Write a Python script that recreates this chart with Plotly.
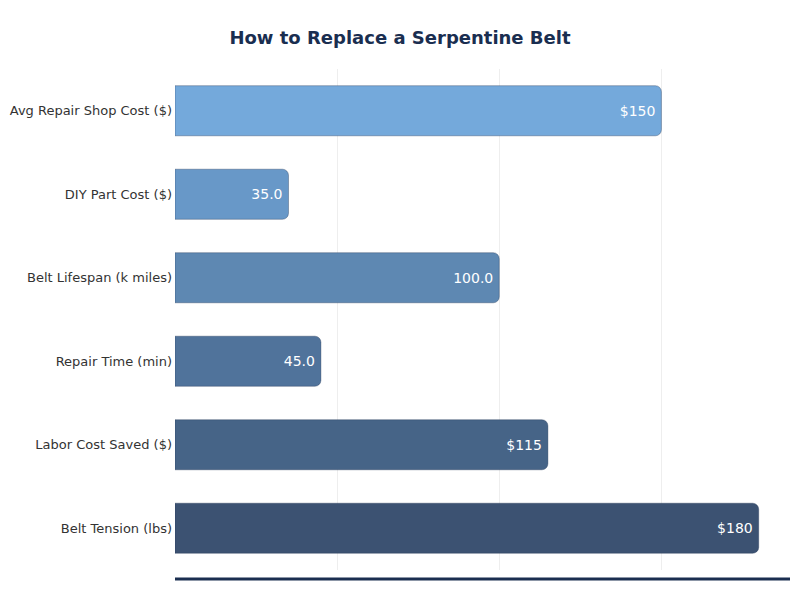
import plotly.graph_objects as go

# data
categories = ['Avg Repair Shop Cost ($)', 'DIY Part Cost ($)', 'Belt Lifespan (k miles)',
              'Repair Time (min)', 'Labor Cost Saved ($)', 'Belt Tension (lbs)']
values = [150, 35, 100, 45, 115, 180]
labels = ['$150', '35.0', '100.0', '45.0', '$115', '$180']
bar_colors = ['#74a9db', '#6898c8', '#5e88b2', '#50739b', '#466487', '#3c5272']

fig = go.Figure()
fig.add_trace(go.Bar(
    x=values,
    y=categories,
    orientation='h',
    text=labels,
    textposition='inside',
    insidetextanchor='end',
    textfont=dict(color='white', size=14, family='DejaVu Sans'),
    marker=dict(color=bar_colors, line=dict(color='rgba(30,50,80,0.35)', width=1),
                cornerradius=6),
    hoverinfo='x+y',
))

# dark rule under the plot
fig.add_shape(type='line', xref='paper', yref='paper', x0=0, x1=1, y0=-0.018, y1=-0.018,
              line=dict(color='#1a2e50', width=3))

fig.update_layout(
    title=dict(text='<b>How to Replace a Serpentine Belt</b>', x=0.5, xanchor='center',
               y=0.95, yanchor='middle',
               font=dict(size=18, color='#1a2e50', family='DejaVu Sans')),
    width=784, height=584,
    margin=dict(l=165, r=2, t=61, b=22),
    plot_bgcolor='white', paper_bgcolor='white',
    font=dict(family='DejaVu Sans', color='#333333', size=13),
    bargap=0.4,
    showlegend=False,
    xaxis=dict(range=[0, 189.65], showticklabels=False, showgrid=True,
               gridcolor='#eeeeee', gridwidth=1, zeroline=False, dtick=50,
               showline=False),
    yaxis=dict(autorange='reversed', showgrid=False, zeroline=False,
               tickfont=dict(size=13, color='#333333'), ticks='', ticklabelstandoff=2),
)

fig.write_html('out.html')
